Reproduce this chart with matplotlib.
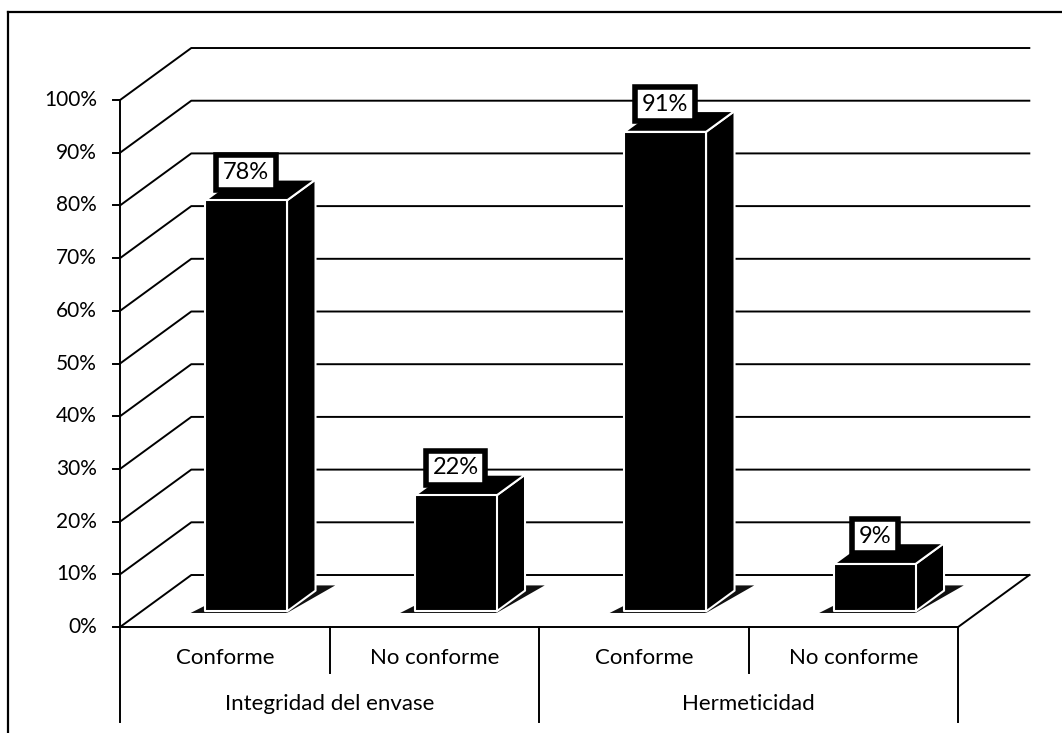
import matplotlib
matplotlib.use("Agg")
import matplotlib.pyplot as plt
from matplotlib.patches import Polygon
from matplotlib.lines import Line2D

# Data
groups = ["Integridad del envase", "Hermeticidad"]
categories = ["Conforme", "No conforme", "Conforme", "No conforme"]
values = [78, 22, 91, 9]
yticks = list(range(0, 101, 10))

plt.rcParams["font.family"] = ["Lato", "DejaVu Sans"]

fig = plt.figure(figsize=(10.62, 7.33), dpi=100)
ax = fig.add_axes([0, 0, 1, 1])
ax.set_xlim(-0.573, 4.496)
ax.set_ylim(-20.11, 118.98)
ax.axis("off")

# Oblique projection: depth z in [0, 1] shifts points right and up
DX, DY = 0.34, 9.87


def proj(x, y, z):
    return (x + z * DX, y + z * DY)


n = len(categories)
LW = 1.4

# Walls: gridlines run from the value axis back to the rear wall
for t in yticks:
    pts = [proj(0, t, 0), proj(0, t, 1), proj(n, t, 1)]
    ax.plot([p[0] for p in pts], [p[1] for p in pts], color="black", lw=LW, zorder=1)
    ax.plot([-0.034, 0], [t, t], color="black", lw=LW, zorder=1)
    ax.text(-0.11, t, f"{t}%", ha="right", va="center", fontsize=15, zorder=5)

# Floor edges
p0, p1 = proj(n, 0, 0), proj(n, 0, 1)
ax.plot([p0[0], p1[0]], [p0[1], p1[1]], color="black", lw=LW, zorder=1)
ax.plot([0, n], [0, 0], color="black", lw=LW, zorder=1)

# Value axis and category table lines
ax.plot([0, 0], [-18.0, 100], color="black", lw=LW, zorder=1)
for k in range(1, n + 1):
    bottom = -18.0 if k % 2 == 0 else -8.7
    ax.plot([k, k], [0, bottom], color="black", lw=LW, zorder=1)

for i, c in enumerate(categories):
    ax.text(i + 0.5, -5.9, c, ha="center", va="center", fontsize=16)
for g, name in enumerate(groups):
    ax.text(2 * g + 1, -14.6, name, ha="center", va="center", fontsize=16)

# 3D columns
ZF, ZB = 0.3, 0.7
HALF = 0.195
for i, v in enumerate(values):
    x0, x1 = i + 0.5 - HALF, i + 0.5 + HALF
    shadow = [proj(x0 - 0.06, 0, ZF - 0.03), proj(x1 + 0.01, 0, ZF - 0.03),
              proj(x1 + 0.06, 0, ZB + 0.1), proj(x0 + 0.02, 0, ZB + 0.1)]
    ax.add_patch(Polygon(shadow, closed=True, fc="#111111", ec="none", zorder=2))
    front = [proj(x0, 0, ZF), proj(x1, 0, ZF), proj(x1, v, ZF), proj(x0, v, ZF)]
    side = [proj(x1, 0, ZF), proj(x1, 0, ZB), proj(x1, v, ZB), proj(x1, v, ZF)]
    top = [proj(x0, v, ZF), proj(x1, v, ZF), proj(x1, v, ZB), proj(x0, v, ZB)]
    for face in (side, top, front):
        ax.add_patch(Polygon(face, closed=True, fc="black", ec="white",
                             lw=1.5, joinstyle="round", zorder=3))
    cx, cy = proj(0.5 * (x0 + x1), v, ZF)
    ax.annotate(f"{v}%", xy=(cx, cy), xytext=(0, 20), textcoords="offset points",
                ha="center", va="center", fontsize=17, zorder=6,
                bbox=dict(boxstyle="square,pad=0.28", fc="white", ec="black", lw=4))

# Outer frame, cropped at the right and bottom edges
W, H = 1062, 733
fig.add_artist(Line2D([8 / W, 1], [1 - 12 / H, 1 - 12 / H], color="black", lw=1.6,
                      transform=fig.transFigure))
fig.add_artist(Line2D([8 / W, 8 / W], [1 - 12 / H, 0], color="black", lw=1.6,
                      transform=fig.transFigure))

fig.savefig("out.png", dpi=100, facecolor="white")
